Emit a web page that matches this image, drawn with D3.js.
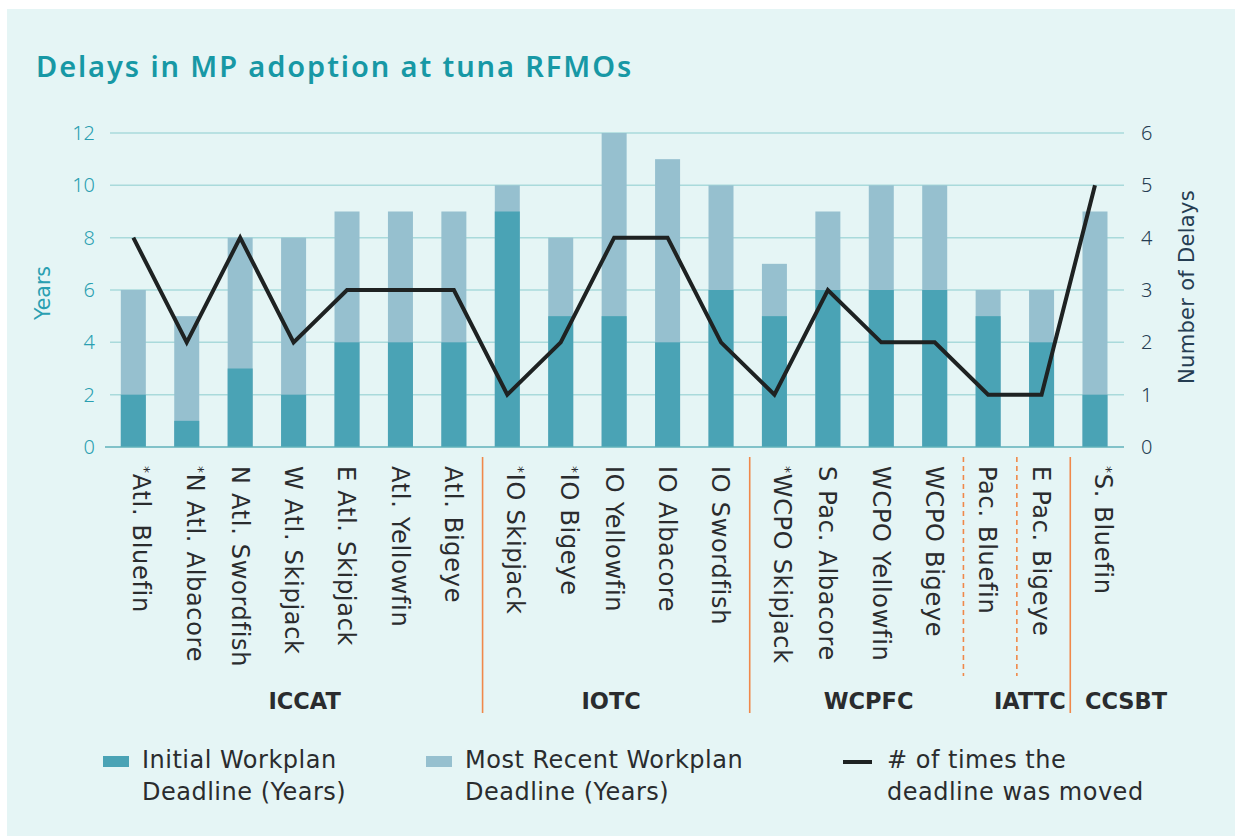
<!DOCTYPE html>
<html>
<head>
<meta charset="utf-8">
<script src="https://cdn.jsdelivr.net/npm/d3@7"></script>
<style>
  html, body { margin: 0; padding: 0; background: #ffffff; }
  svg { display: block; font-family: "DejaVu Sans", sans-serif; }
</style>
</head>
<body>
<div id="chart"></div>
<script>
// chart data
const species = ["Atl. Bluefin", "N Atl. Albacore", "N Atl. Swordfish", "W Atl. Skipjack", "E Atl. Skipjack",
  "Atl. Yellowfin", "Atl. Bigeye", "IO Skipjack", "IO Bigeye", "IO Yellowfin", "IO Albacore", "IO Swordfish",
  "WCPO Skipjack", "S Pac. Albacore", "WCPO Yellowfin", "WCPO Bigeye", "Pac. Bluefin", "E Pac. Bigeye", "S. Bluefin"];
const starred = [true, true, false, false, false, false, false, true, true, false, false, false,
  true, false, false, false, false, false, true];
const rfmo = ["ICCAT", "ICCAT", "ICCAT", "ICCAT", "ICCAT", "ICCAT", "ICCAT", "IOTC", "IOTC", "IOTC", "IOTC", "IOTC",
  "WCPFC", "WCPFC", "WCPFC", "WCPFC", "IATTC", "IATTC", "CCSBT"];
const initialDeadline = [2, 1, 3, 2, 4, 4, 4, 9, 5, 5, 4, 6, 5, 6, 6, 6, 5, 4, 2];
const recentDeadline = [6, 5, 8, 8, 9, 9, 9, 10, 8, 12, 11, 10, 7, 9, 10, 10, 6, 6, 9];
const timesMoved = [4, 2, 4, 2, 3, 3, 3, 1, 2, 4, 4, 2, 1, 3, 2, 2, 1, 1, 5];
const groups = ["ICCAT", "IOTC", "WCPFC", "IATTC", "CCSBT"];
const yearTicks = [0, 2, 4, 6, 8, 10, 12];
const delayTicks = [0, 1, 2, 3, 4, 5, 6];

const width = 1235, height = 836;
const colInitial = "#4aa3b5", colRecent = "#96c0cf", colLine = "#1e2222";
const teal = "#2a9fb1", navy = "#253d52", ink = "#2a2c2e", orange = "#f0884a";

const svg = d3.select("#chart").append("svg")
  .attr("width", width).attr("height", height);

svg.append("rect")
  .attr("x", 7).attr("y", 9).attr("width", width - 7).attr("height", height - 9)
  .attr("fill", "#e5f5f5");

svg.append("text")
  .attr("x", 36).attr("y", 77)
  .attr("font-family", "Noto Sans, sans-serif")
  .attr("font-size", "29px").attr("font-weight", 600)
  .attr("letter-spacing", "1.9px")
  .attr("fill", "#1798a5")
  .text("Delays in MP adoption at tuna RFMOs");

const x = d3.scalePoint().domain(species).range([106.6, 1121.7]).padding(0.5);
const yL = d3.scaleLinear().domain([0, 12]).range([447, 133]);
const yR = d3.scaleLinear().domain([0, 6]).range([447, 133]);
const barW = 25;

// gridlines
svg.append("g").selectAll("line").data(yearTicks.filter(d => d > 0)).join("line")
  .attr("x1", 110).attr("x2", 1124)
  .attr("y1", d => yL(d)).attr("y2", d => yL(d))
  .attr("stroke", "#a9dadb").attr("stroke-width", 1.5);

// left axis
const leftAxis = svg.append("g").attr("transform", "translate(104,0)")
  .call(d3.axisLeft(yL).tickValues(yearTicks).tickSize(0).tickPadding(9));
leftAxis.select(".domain").remove();
leftAxis.selectAll("text").attr("font-size", "20px").attr("fill", teal)
  .attr("font-family", "Noto Sans, sans-serif").attr("font-weight", 300);

// right axis
const rightAxis = svg.append("g").attr("transform", "translate(1132,0)")
  .call(d3.axisRight(yR).tickValues(delayTicks).tickFormat(d3.format("d")).tickSize(0).tickPadding(9));
rightAxis.select(".domain").remove();
rightAxis.selectAll("text").attr("font-size", "20px").attr("fill", navy)
  .attr("font-family", "Noto Sans, sans-serif").attr("font-weight", 300);

svg.append("text")
  .attr("transform", "translate(43,293) rotate(-90)")
  .attr("text-anchor", "middle").attr("dy", "0.36em")
  .attr("font-size", "20.5px").attr("fill", teal)
  .text("Years");

svg.append("text")
  .attr("transform", "translate(1186,287) rotate(-90)")
  .attr("text-anchor", "middle").attr("dy", "0.36em")
  .attr("font-size", "21px").attr("letter-spacing", "0.3px").attr("fill", navy)
  .text("Number of Delays");

// stacked bars: most recent behind, initial in front
const rows = species.map((s, i) => ({ s, ini: initialDeadline[i], rec: recentDeadline[i], moved: timesMoved[i] }));

svg.append("g").selectAll("rect").data(rows).join("rect")
  .attr("x", d => x(d.s) - barW / 2).attr("width", barW)
  .attr("y", d => yL(d.rec)).attr("height", d => yL(0) - yL(d.rec))
  .attr("fill", colRecent);

svg.append("g").selectAll("rect").data(rows).join("rect")
  .attr("x", d => x(d.s) - barW / 2).attr("width", barW)
  .attr("y", d => yL(d.ini)).attr("height", d => yL(0) - yL(d.ini))
  .attr("fill", colInitial);

// baseline
svg.append("line")
  .attr("x1", 105).attr("x2", 1124).attr("y1", yL(0)).attr("y2", yL(0))
  .attr("stroke", "#5fb0ba").attr("stroke-width", 1.5);

// delays line
svg.append("path")
  .datum(rows)
  .attr("fill", "none").attr("stroke", colLine).attr("stroke-width", 4)
  .attr("stroke-linejoin", "miter")
  .attr("d", d3.line().x(d => x(d.s)).y(d => yR(d.moved)));

// category labels
const labels = svg.append("g").selectAll("text").data(rows).join("text")
  .attr("transform", d => `translate(${x(d.s)},466) rotate(90)`)
  .attr("dy", "0.36em")
  .attr("font-size", "24px").attr("letter-spacing", "0.7px").attr("fill", ink);
labels.each(function (d, i) {
  const t = d3.select(this);
  if (starred[i]) {
    t.append("tspan").attr("font-size", "14px").attr("dy", "-0.5em").text("*");
    t.append("tspan").attr("dy", "0.3em").text(d.s);
  } else {
    t.text(d.s);
  }
});

// group separators
const step = x.step();
for (let i = 1; i < species.length; i++) {
  const sameGroup = rfmo[i] === rfmo[i - 1];
  const dashed = (rfmo[i - 1] === "WCPFC" && rfmo[i] === "IATTC") || (sameGroup && rfmo[i] === "IATTC");
  if (sameGroup && !dashed) continue;
  const sx = x(species[i]) - step / 2 + 2;
  svg.append("line")
    .attr("x1", sx).attr("x2", sx)
    .attr("y1", 457).attr("y2", dashed ? 676 : 713)
    .attr("stroke", orange).attr("stroke-width", 1.6)
    .attr("stroke-dasharray", dashed ? "5,4" : null);
}

// group labels
const labelShift = { ICCAT: 11, IOTC: -3, WCPFC: 14, IATTC: 15, CCSBT: 31 };
groups.forEach(g => {
  const members = species.filter((s, i) => rfmo[i] === g);
  const cx = d3.mean(members, s => x(s)) + labelShift[g];
  svg.append("text")
    .attr("x", cx).attr("y", 709)
    .attr("text-anchor", "middle")
    .attr("font-size", "22.5px").attr("font-weight", 700).attr("fill", ink)
    .text(g);
});

// legend
const legend = [
  { x: 103, kind: "rect", color: colInitial, lines: ["Initial Workplan", "Deadline (Years)"] },
  { x: 426, kind: "rect", color: colRecent, lines: ["Most Recent Workplan", "Deadline (Years)"] },
  { x: 843, kind: "line", color: colLine, lines: ["# of times the", "deadline was moved"] }
];
legend.forEach(l => {
  const g = svg.append("g").attr("transform", `translate(${l.x},0)`);
  if (l.kind === "rect") {
    g.append("rect").attr("x", 0).attr("y", 756).attr("width", 26).attr("height", 11).attr("fill", l.color);
  } else {
    g.append("line").attr("x1", 0).attr("x2", 29).attr("y1", 762).attr("y2", 762)
      .attr("stroke", l.color).attr("stroke-width", 4);
  }
  l.lines.forEach((t, j) => {
    g.append("text")
      .attr("x", l.kind === "rect" ? 39 : 44).attr("y", 768 + j * 32)
      .attr("font-size", "24px").attr("letter-spacing", "0.5px").attr("fill", ink)
      .text(t);
  });
});
</script>
</body>
</html>
